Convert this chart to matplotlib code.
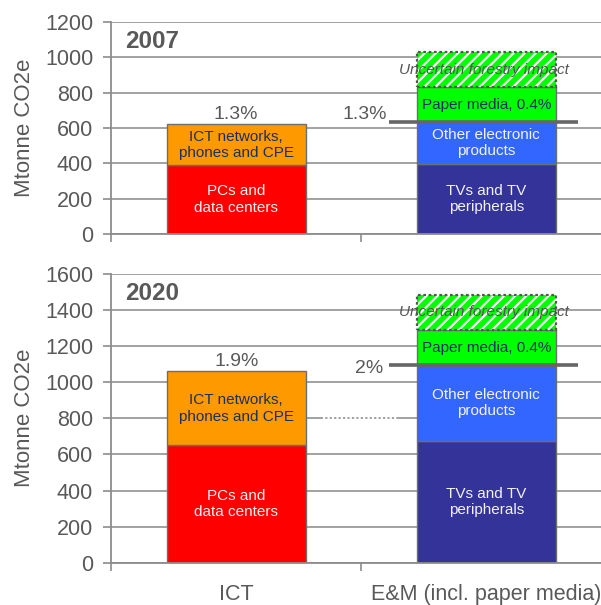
import matplotlib
matplotlib.use("Agg")
import matplotlib.pyplot as plt

# --- data ---
categories = ["ICT", "E&M (incl. paper media)"]
years = ["2007", "2020"]
y_max = [1200, 1600]

ict_pcs = [390, 650]            # PCs and data centers
ict_networks = [230, 410]       # ICT networks, phones and CPE
em_tvs = [395, 675]             # TVs and TV peripherals
em_other = [240, 420]           # Other electronic products
em_paper = [195, 195]           # Paper media
em_forestry = [200, 195]        # Uncertain forestry impact

ict_share = ["1.3%", "1.9%"]
em_share = ["1.3%", "2%"]

plt.rcParams["font.family"] = ["Liberation Sans", "DejaVu Sans"]
plt.rcParams["hatch.linewidth"] = 1.6

grey_txt = "#595959"
grey_line = "#8c8c8c"
dark_txt = "#1c2f5e"
light_txt = "#f2f2f2"
bar_w = 0.556
edge = "#6e6e6e"

fig = plt.figure(figsize=(6.01, 6.05), dpi=100)
ax_top = fig.add_axes([0.185, 0.6132, 0.832, 0.3504])
ax_bot = fig.add_axes([0.185, 0.0699, 0.832, 0.4772])

for i, ax in enumerate([ax_top, ax_bot]):
    ax.set_xlim(-0.5, 1.5)
    ax.set_ylim(0, y_max[i])
    ax.set_yticks(range(0, y_max[i] + 1, 200))
    ax.set_axisbelow(True)
    ax.yaxis.grid(True, color="#9a9a9a", linewidth=1.3)
    for s in ["top", "right"]:
        ax.spines[s].set_visible(False)
    for s in ["left", "bottom"]:
        ax.spines[s].set_color(grey_line)
        ax.spines[s].set_linewidth(1.3)
    ax.tick_params(axis="y", direction="out", length=6, width=1.2,
                   color=grey_line, labelsize=15.5, labelcolor=grey_txt, pad=7)
    ax.set_xticks([0, 1])
    ax.set_xticks([-0.5, 0.5, 1.5], minor=True)
    ax.tick_params(axis="x", which="major", length=0, labelsize=15.5,
                   labelcolor=grey_txt, pad=15)
    ax.tick_params(axis="x", which="minor", direction="out", length=6,
                   width=1.2, color=grey_line)
    if i == 0:
        ax.set_xticklabels([])
    else:
        ax.set_xticklabels(categories)

    # ICT stack
    ax.bar(0, ict_pcs[i], bar_w, color="#ff0000", edgecolor=edge, lw=1)
    ax.bar(0, ict_networks[i], bar_w, bottom=ict_pcs[i], color="#ff9900",
           edgecolor=edge, lw=1)
    ict_top = ict_pcs[i] + ict_networks[i]
    ax.text(0, ict_pcs[i] / 2, "PCs and\ndata centers", ha="center",
            va="center", fontsize=11, color=light_txt)
    ax.text(0, ict_pcs[i] + ict_networks[i] / 2,
            "ICT networks,\nphones and CPE", ha="center", va="center",
            fontsize=11, color=dark_txt)
    ax.annotate(ict_share[i], (0, ict_top), xytext=(0, 1),
                textcoords="offset points", ha="center", va="bottom",
                fontsize=14, color=grey_txt)

    # E&M stack
    b1 = em_tvs[i]
    b2 = b1 + em_other[i]
    b3 = b2 + em_paper[i]
    ax.bar(1, em_tvs[i], bar_w, color="#333399", edgecolor=edge, lw=1)
    ax.bar(1, em_other[i], bar_w, bottom=b1, color="#3366ff",
           edgecolor=edge, lw=1)
    ax.bar(1, em_paper[i], bar_w, bottom=b2, color="#00ff00",
           edgecolor=edge, lw=1)
    ax.bar(1, em_forestry[i], bar_w, bottom=b3, color="#00ff00",
           edgecolor="white", hatch="///", lw=0)
    ax.bar(1, em_forestry[i], bar_w, bottom=b3, fill=False,
           edgecolor="#555555", lw=1.6, linestyle=(0, (1.2, 1.2)))

    ax.text(1, b1 / 2, "TVs and TV\nperipherals", ha="center", va="center",
            fontsize=11, color=light_txt)
    ax.text(1, b1 + em_other[i] / 2, "Other electronic\nproducts",
            ha="center", va="center", fontsize=11, color=light_txt)
    ax.text(1, b2 + em_paper[i] / 2, "Paper media, 0.4%", ha="center",
            va="center", fontsize=11, color=dark_txt)
    ax.text(0.99, b3 + em_forestry[i] / 2, "Uncertain forestry impact",
            ha="center", va="center", fontsize=11, color="#555555",
            style="italic")

    # share marker line for electronic products
    ax.plot([0.613, 1.369], [b2, b2], color="#666666", lw=2.6,
            solid_capstyle="butt", zorder=5)

    ax.text(0.028, 0.908 if i == 0 else 0.933, years[i],
            transform=ax.transAxes, ha="left", va="center", fontsize=17.5,
            fontweight="bold", color=grey_txt)

ax_top.annotate(em_share[0], (0.613, em_tvs[0] + em_other[0]),
                xytext=(-2, 2), textcoords="offset points", ha="right",
                va="baseline", fontsize=14, color=grey_txt)
ax_bot.annotate(em_share[1], (0.613, em_tvs[1] + em_other[1]),
                xytext=(-4.5, -5.5), textcoords="offset points", ha="right",
                va="baseline", fontsize=14, color=grey_txt)

# small dotted break on the 800 gridline in the lower panel
ax_bot.plot([0.348, 0.644], [800, 800], color="white", lw=1.6,
            linestyle=(0, (1, 1)), zorder=3)

fig.text(25 / 601, 1 - 128 / 605, "Mtonne CO2e", rotation=90, ha="center",
         va="center", fontsize=16, color=grey_txt)
fig.text(25 / 601, 1 - 418 / 605, "Mtonne CO2e", rotation=90, ha="center",
         va="center", fontsize=16, color=grey_txt)

fig.savefig("out.png", dpi=100)
